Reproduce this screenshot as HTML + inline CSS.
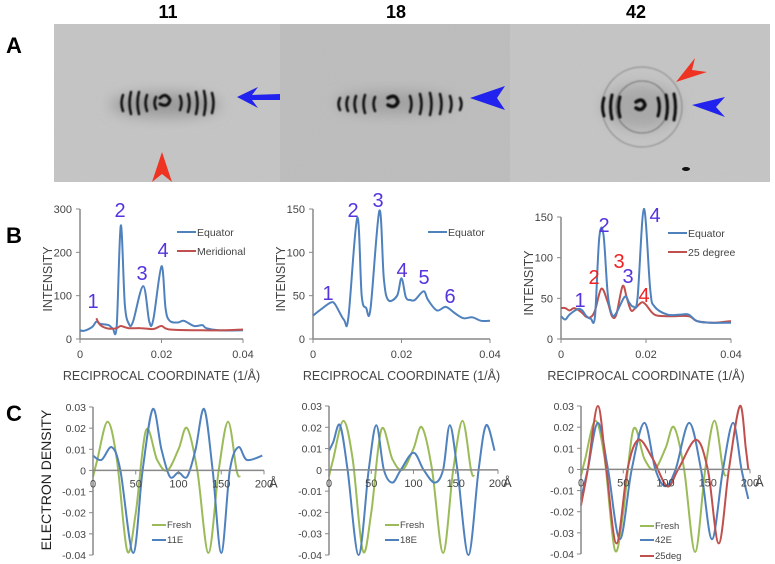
<!DOCTYPE html>
<html><head><meta charset="utf-8"><style>
body{margin:0;background:#fff;}
svg{display:block;font-family:"Liberation Sans",sans-serif;}
</style></head><body>
<svg id="fig" width="775" height="564" viewBox="0 0 775 564" xmlns="http://www.w3.org/2000/svg">
<defs>
<filter id="blur1"><feGaussianBlur stdDeviation="0.8"/></filter>
<filter id="blur4" x="-50%" y="-50%" width="200%" height="200%"><feGaussianBlur stdDeviation="7"/></filter>
<filter id="noise" x="0" y="0" width="1" height="1"><feTurbulence type="fractalNoise" baseFrequency="0.9" numOctaves="1" seed="3"/><feColorMatrix type="matrix" values="0 0 0 0 0.72  0 0 0 0 0.72  0 0 0 0 0.72  0 0 0 -0.6 0.5"/></filter>
<clipPath id="imgclip"><rect x="54" y="24" width="716" height="158"/></clipPath>
</defs>
<g font-weight="bold" font-size="22">
<text x="6" y="53">A</text>
<text x="6" y="243">B</text>
<text x="6" y="421">C</text>
</g>
<g font-weight="bold" font-size="18" text-anchor="middle">
<text x="168" y="18">11</text>
<text x="396" y="18">18</text>
<text x="636" y="18">42</text>
</g>
<g id="panelA" clip-path="url(#imgclip)">
<rect x="54" y="24" width="716" height="158" fill="#c2c2c2"/>
<rect x="54" y="24" width="716" height="158" filter="url(#noise)" opacity="0.4"/>
<rect x="280" y="24" width="230" height="158" fill="#b5b5b5" opacity="0.5"/>
<ellipse cx="165" cy="105" rx="55" ry="12" fill="#9a9a9a" filter="url(#blur4)"/>
<ellipse cx="395" cy="103" rx="60" ry="11" fill="#a0a0a0" filter="url(#blur4)"/>
<ellipse cx="641" cy="107" rx="38" ry="22" fill="#a8a8a8" filter="url(#blur4)"/>
<g id="arcs" filter="url(#blur1)" stroke="#111" fill="none" stroke-linecap="round"></g>
<polygon points="237,97 258,87 252,95 280,94 280,100 252,100 258,108" fill="#2222ee"/>
<polygon points="162,152 172,182 162,174 152,182" fill="#ee3322"/>
<polygon points="470,98 505,86 497,98 505,110" fill="#2222ee"/>
<polygon points="676,82 695,58 692,70 707,72" fill="#ee3322"/>
<polygon points="692,105 725,97 716,107 725,117" fill="#2222ee"/>
<ellipse cx="686" cy="169" rx="4" ry="2" fill="#111"/>
</g>
<g id="charts"></g>
</svg>
<script>
const svgNS="http://www.w3.org/2000/svg";
// ---------- Panel B data (x in units of 0.001 1/Å) ----------
const b1EquatorX=[0,1,3,4,5,7,8,9,10,11,12,13,15.5,17,18,20,21,22,24,25.5,28,30,31,34,40];
const b1EquatorY=[20,19,28,40,35,32,25,30,262,80,35,40,122,40,45,168,70,42,38,42,30,32,25,20,20];
const b1MeridX=[4,5,7,9,10,12,15,18,20,22,30,35,40];
const b1MeridY=[48,32,24,25,30,25,25,23,30,22,20,20,22];
const b2EquatorX=[0,2,4,5,7,8,10,11,12,13,15,16,17,19,20,21,22,23,25,26,28,30,32,34,36,38,40];
const b2EquatorY=[27,35,42,40,22,25,140,50,36,35,148,70,45,50,70,48,45,45,55,45,33,37,30,24,25,21,21];
const b3EquatorX=[0,1,2,4,5,6,7,8,9,10,11,12,13,15,16,17,18,19.5,21,22,25,28,30,32,35,40];
const b3EquatorY=[28,24,30,37,35,28,25,28,125,128,55,30,32,52,45,40,50,160,60,40,30,30,30,22,20,20];
const b3DegX=[0,1,2,3,4,5,6,7,8,9.5,11,12,13,14.5,15.5,16.5,17.5,19,20,22,25,30,32,36,40];
const b3DegY=[38,38,35,38,36,32,27,27,35,62,45,28,30,65,50,35,38,45,42,30,28,28,22,20,22];
const bXTicks=["0","0.02","0.04"];
const b1YTicks=[0,100,200,300];
const b23YTicks=[0,50,100,150];
// ---------- Panel C data (x in Å) ----------
const freshX=[0,5,17,28,40,50,62,75,87,100,110,122,135,147,158,168,172];
const freshY=[-0.003,0.005,0.023,0.005,-0.038,-0.02,0.019,0.005,0,0.01,0.02,0,-0.039,0,0.023,0,-0.003];
const c11X=[0,10,22,32,47,58,70,80,90,100,110,120,130,140,150,160,170,180,198];
const c11Y=[0.007,0.005,0.011,0,-0.039,0,0.029,0.01,-0.003,-0.001,-0.003,0.01,0.029,0,-0.039,0,0.011,0.005,0.007];
const c18X=[0,5,13,22,35,47,56,65,75,85,100,112,125,135,143,152,165,177,186,196];
const c18Y=[0.009,0.013,0.021,0,-0.04,0,0.021,0,-0.006,0,0.008,0,-0.006,0,0.021,0,-0.04,0,0.021,0.009];
const c42X=[0,8,20,32,46,60,75,88,100,112,128,142,155,168,180,190,198];
const c42Y=[-0.014,0,0.022,0,-0.033,0,0.022,0,-0.008,0,0.022,0,-0.033,0,0.022,0,-0.014];
const c25X=[0,8,20,30,42,55,68,85,102,115,136,150,163,175,188,195,198];
const c25Y=[-0.017,0,0.03,0,-0.035,0,0.014,0.005,-0.008,0,0.014,0,-0.035,0,0.03,0.01,0];
const cXTicks=[0,50,100,150,200];
const cYTicks=[0.03,0.02,0.01,0,-0.01,-0.02,-0.03,-0.04];

const BLUE="#4f81bd",RED="#c0504d",GREEN="#9bbb59",AX="#888",TXT="#444";
const root=document.getElementById('charts');
function mk(tag,attrs,parent){const e=document.createElementNS(svgNS,tag);for(const k in attrs)e.setAttribute(k,attrs[k]);(parent||root).appendChild(e);return e;}
function smooth(pts){let d="M"+pts[0][0].toFixed(1)+","+pts[0][1].toFixed(1);
 for(let i=0;i<pts.length-1;i++){const p0=pts[i-1]||pts[i],p1=pts[i],p2=pts[i+1],p3=pts[i+2]||p2;
  const c1=[p1[0]+(p2[0]-p0[0])/6,p1[1]+(p2[1]-p0[1])/6],c2=[p2[0]-(p3[0]-p1[0])/6,p2[1]-(p3[1]-p1[1])/6];
  d+=" C"+c1[0].toFixed(1)+","+c1[1].toFixed(1)+" "+c2[0].toFixed(1)+","+c2[1].toFixed(1)+" "+p2[0].toFixed(1)+","+p2[1].toFixed(1);}
 return d;}
function series(g,xs,ys,sx,sy,color,name){const p=mk('path',{d:smooth(xs.map((x,i)=>[sx(x),sy(ys[i])])),fill:'none',stroke:color,'stroke-width':2},g);
 
 }
function txt(g,x,y,s,attrs){const t=mk('text',Object.assign({x:x,y:y},attrs||{}),g);t.textContent=s;return t;}

function chartB(cfg){
 const g=mk('g',{});
 
 
 const sx=v=>cfg.x0+(cfg.x1-cfg.x0)*v/40, sy=v=>cfg.y0+(cfg.y1-cfg.y0)*v/cfg.ymax;
 mk('line',{x1:cfg.x0,y1:cfg.y0,x2:cfg.x1,y2:cfg.y0,stroke:AX,'stroke-width':1.5},g);
 mk('line',{x1:cfg.x0,y1:cfg.y0,x2:cfg.x0,y2:cfg.y1,stroke:AX,'stroke-width':1.5},g);
 cfg.yticks.forEach(v=>{mk('line',{x1:cfg.x0-4,x2:cfg.x0,y1:sy(v),y2:sy(v),stroke:AX},g);
  txt(g,cfg.x0-8,sy(v)+4,String(v),{'font-size':11,'text-anchor':'end',fill:TXT});});
 bXTicks.forEach(s=>{const v=parseFloat(s)*1000;mk('line',{x1:sx(v),x2:sx(v),y1:cfg.y0,y2:cfg.y0+4,stroke:AX},g);
  txt(g,sx(v),cfg.y0+19,s,{'font-size':11,'text-anchor':'middle',fill:TXT});});
 txt(g,(cfg.x0+cfg.x1)/2,cfg.y0+41,"RECIPROCAL COORDINATE (1/Å)",{'font-size':12.5,'text-anchor':'middle',fill:TXT});
 txt(g,0,0,"INTENSITY",{'font-size':12.5,'text-anchor':'middle',fill:TXT,transform:`translate(${cfg.x0-28},${(cfg.y0+cfg.y1)/2+5}) rotate(-90)`});
 cfg.series.forEach(s=>series(g,s[0],s[1],sx,sy,s[2],s[3]));
 cfg.legend.forEach((l,i)=>{const y=cfg.ly+i*19;mk('line',{x1:cfg.lx,x2:cfg.lx+19,y1:y,y2:y,stroke:l[1],'stroke-width':2},g);
  txt(g,cfg.lx+20,y+4,l[0],{'font-size':10.5,fill:TXT});});
 cfg.peaks.forEach(p=>txt(g,p[0],p[1],p[2],{'font-size':20,fill:p[3],'text-anchor':'middle'}));
}
const PUR="#5533dd",PRED="#ee2222";
chartB({name:'chart-b-11',x0:80,x1:243,y0:339,y1:209,ymax:300,yticks:b1YTicks,
 series:[[b1EquatorX,b1EquatorY,BLUE,'b11-equator-line'],[b1MeridX,b1MeridY,RED,'b11-meridional-line']],
 legend:[["Equator",BLUE],["Meridional",RED]],lx:177,ly:232,
 peaks:[[93,308,"1",PUR],[120,217,"2",PUR],[142,280,"3",PUR],[163,257,"4",PUR]]});
chartB({name:'chart-b-18',x0:313,x1:490,y0:339,y1:209,ymax:150,yticks:b23YTicks,
 series:[[b2EquatorX,b2EquatorY,BLUE,'b18-equator-line']],
 legend:[["Equator",BLUE]],lx:428,ly:232,
 peaks:[[328,300,"1",PUR],[353,217,"2",PUR],[378,207,"3",PUR],[402,277,"4",PUR],[424,284,"5",PUR],[450,303,"6",PUR]]});
chartB({name:'chart-b-42',x0:561,x1:731,y0:339,y1:217,ymax:150,yticks:b23YTicks,
 series:[[b3DegX,b3DegY,RED,'b42-25degree-line'],[b3EquatorX,b3EquatorY,BLUE,'b42-equator-line']],
 legend:[["Equator",BLUE],["25 degree",RED]],lx:668,ly:233,
 peaks:[[580,307,"1",PUR],[604,232,"2",PUR],[628,283,"3",PUR],[655,222,"4",PUR],[594,284,"2",PRED],[619,268,"3",PRED],[644,302,"4",PRED]]});

function chartC(cfg){
 const g=mk('g',{});
 
 
 const sx=v=>cfg.x0+(cfg.x1-cfg.x0)*v/200, sy=v=>cfg.yt+(cfg.yb-cfg.yt)*(0.03-v)/0.07;
 cfg.series.forEach(s=>series(g,s[0],s[1],sx,sy,s[2],s[3]));
 mk('line',{x1:cfg.x0,y1:sy(0),x2:cfg.x1,y2:sy(0),stroke:AX,'stroke-width':1.5},g);
 mk('line',{x1:cfg.x0,y1:cfg.yt,x2:cfg.x0,y2:cfg.yb,stroke:AX,'stroke-width':1.5},g);
 cYTicks.forEach(v=>{mk('line',{x1:cfg.x0-4,x2:cfg.x0,y1:sy(v),y2:sy(v),stroke:AX},g);
  txt(g,cfg.x0-7,sy(v)+4,v===0?"0":v.toFixed(2),{'font-size':10.5,'text-anchor':'end',fill:TXT});});
 cXTicks.forEach(v=>{mk('line',{x1:sx(v),x2:sx(v),y1:sy(0),y2:sy(0)+4,stroke:AX},g);
  txt(g,sx(v),sy(0)+17,String(v),{'font-size':11,'text-anchor':'middle',fill:TXT});});
 txt(g,cfg.x1+5,sy(0)+17,"Å",{'font-size':13,fill:TXT});
 cfg.legend.forEach((l,i)=>{const y=cfg.ly+l[2];mk('line',{x1:cfg.lx,x2:cfg.lx+14,y1:y,y2:y,stroke:l[1],'stroke-width':2},g);
  txt(g,cfg.lx+15,y+3,l[0],{'font-size':9.5,fill:TXT});});
}
chartC({name:'chart-c-11',x0:93,x1:264,yt:407,yb:555,
 series:[[freshX,freshY,GREEN,'c11-fresh-line'],[c11X,c11Y,BLUE,'c11-11e-line']],
 legend:[["Fresh",GREEN,0],["11E",BLUE,15]],lx:152,ly:525});
chartC({name:'chart-c-18',x0:329,x1:498,yt:406,yb:555,
 series:[[freshX,freshY,GREEN,'c18-fresh-line'],[c18X,c18Y,BLUE,'c18-18e-line']],
 legend:[["Fresh",GREEN,0],["18E",BLUE,15]],lx:385,ly:525});
chartC({name:'chart-c-42',x0:581,x1:750,yt:406,yb:554,
 series:[[freshX,freshY,GREEN,'c42-fresh-line'],[c42X,c42Y,BLUE,'c42-42e-line'],[c25X,c25Y,RED,'c42-25deg-line']],
 legend:[["Fresh",GREEN,0],["42E",BLUE,14],["25deg",RED,30]],lx:640,ly:526});
(function(){const t=mk('text',{x:0,y:0,'font-size':14,'text-anchor':'middle',fill:'#222',transform:'translate(51,480) rotate(-90)'});
 t.textContent="ELECTRON DENSITY";
 
 })();

// diffraction arcs (decorative)
const arcs=document.getElementById('arcs');
function arc(cx,cy,r,h,w){mk('path',{d:`M${cx+r},${cy-h} Q${cx+r+(r>0?3:-3)},${cy} ${cx+r},${cy+h}`,'stroke-width':w},arcs);}
[[-45,8],[-37,11],[-29,11],[-21,8],[-12,6],[12,7],[20,9],[28,11],[36,12],[44,10]].forEach(a=>arc(168,103,a[0],a[1],2.5));
mk('path',{d:'M160,98 q6,-6 10,2 q-2,8 -10,4','stroke-width':3},arcs);
[[-55,6],[-47,7],[-39,8],[-30,9],[-20,7],[15,8],[25,10],[35,11],[45,10],[55,8],[65,6]].forEach(a=>arc(395,104,a[0],a[1],2.5));
mk('path',{d:'M388,98 q8,-5 10,4 q-3,7 -10,3','stroke-width':3.5},arcs);
[[-38,9],[-30,12],[-22,10],[16,9],[24,12],[32,13]].forEach(a=>arc(642,107,a[0],a[1],3));
mk('circle',{cx:642,cy:107,r:26,'stroke-width':1,opacity:0.4},arcs);
mk('circle',{cx:642,cy:107,r:40,'stroke-width':1,opacity:0.3},arcs);
mk('path',{d:'M636,102 q7,-5 9,3 q-3,7 -9,3','stroke-width':3.5},arcs);
</script>
</body></html>
